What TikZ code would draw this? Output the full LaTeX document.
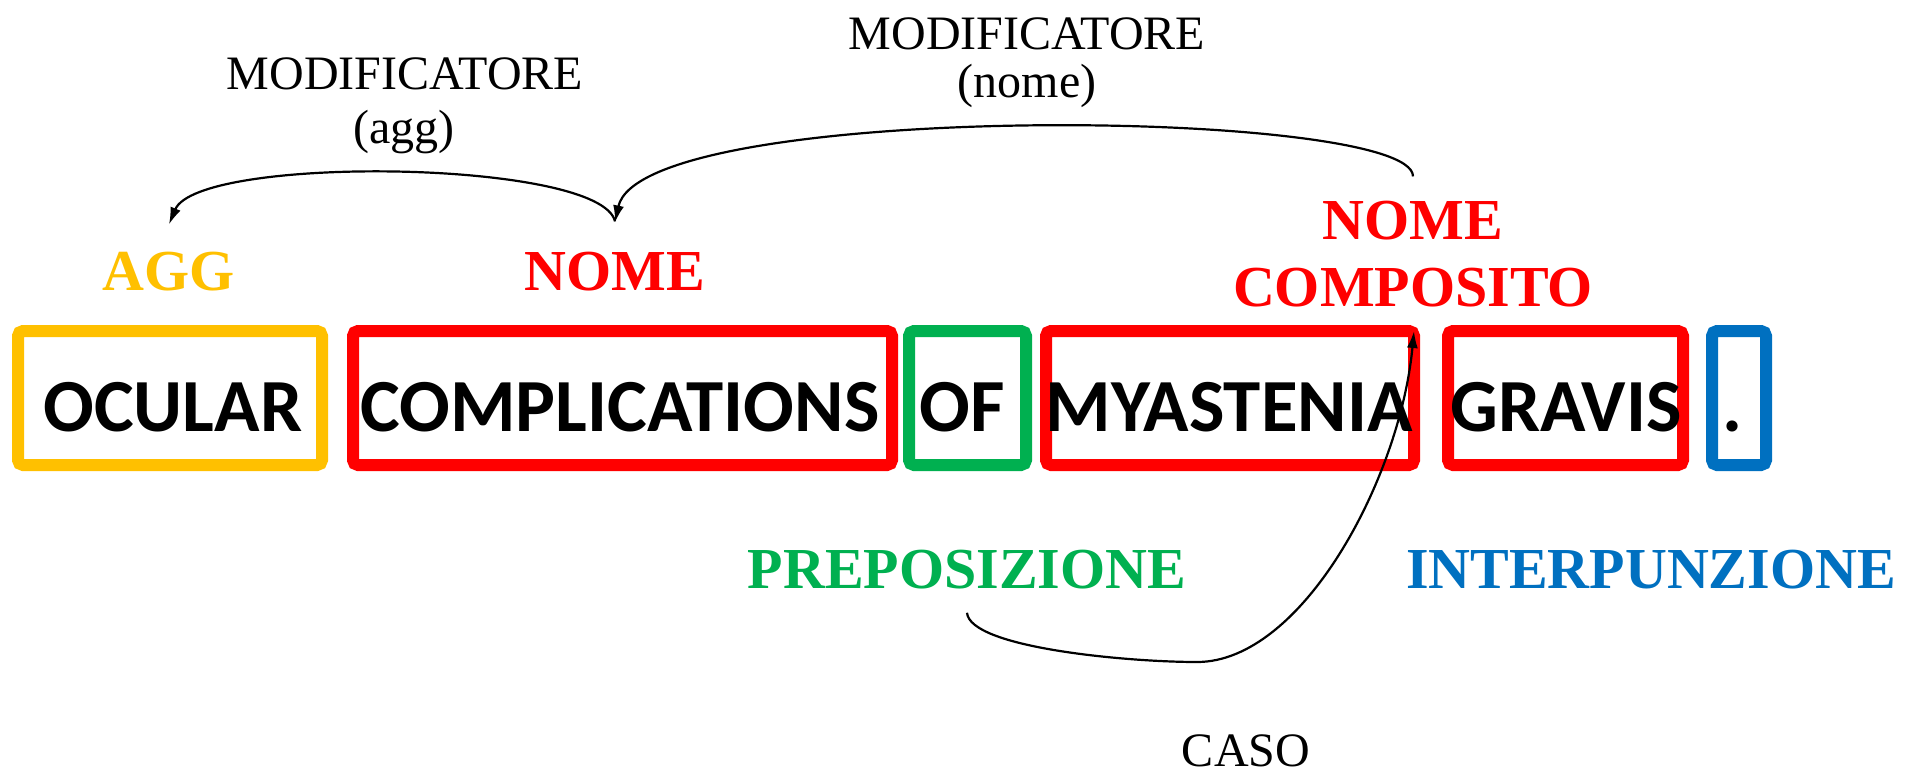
\documentclass[tikz,border=0pt]{standalone}
\usepackage{fontspec}
\setmainfont{Liberation Serif}
\newfontfamily\wordfont{Carlito}
\usetikzlibrary{arrows.meta}
\definecolor{cyel}{HTML}{FFC000}
\definecolor{cred}{HTML}{FF0000}
\definecolor{cgrn}{HTML}{00B050}
\definecolor{cblu}{HTML}{0070C0}
\tikzset{
  wbox/.style={draw, line width=12pt, rounded corners=5pt, outer sep=0pt, inner sep=0pt, minimum height=134pt},
  word/.style={anchor=base, inner sep=0pt, font=\wordfont\bfseries\fontsize{75}{80}\selectfont},
  cat/.style={anchor=base, inner sep=0pt, font=\bfseries\fontsize{58}{67}\selectfont},
  rel/.style={anchor=base, inner sep=0pt, font=\fontsize{48}{54}\selectfont},
  arr/.style={line width=2.2pt, -{Latex[length=17pt,width=11pt]}}
}
\begin{document}
\begin{tikzpicture}[x=1pt,y=1pt]
\useasboundingbox (0,0) rectangle (1921,-774);
% boxes
\node[wbox, draw=cyel, minimum width=304pt] (b1) at (170,-398) {};
\node[wbox, draw=cred, minimum width=539pt] (b2) at (622.5,-398) {};
\node[wbox, draw=cgrn, minimum width=117pt] (b3) at (967.5,-398) {};
\node[wbox, draw=cred, minimum width=368pt] (b4) at (1230,-398) {};
\node[wbox, draw=cred, minimum width=235pt] (b5) at (1565.5,-398) {};
\node[wbox, draw=cblu, minimum width=54pt] (b6) at (1739,-398) {};
% words
\node[word] (w1) at (173,-431) {OCULAR};
\node[word] (w2) at (620,-431) {COMPLICATIONS};
\node[word] (w3) at (962,-431) {OF};
\node[word] (w4) at (1229,-431) {MYASTENIA};
\node[word] (w5) at (1566,-431) {GRAVIS};
\node[word] (w6) at (1732,-431) {.};
% category labels
\node[cat, text=cyel] (agg) at (169,-290) {AGG};
\node[cat, text=cred] (nome) at (615,-290) {NOME};
\node[cat, text=cred] (nc1) at (1413,-239) {NOME};
\node[cat, text=cred] (nc2) at (1413,-306) {COMPOSITO};
\node[cat, text=cgrn] (prep) at (967,-588) {PREPOSIZIONE};
\node[cat, text=cblu] (interp) at (1651,-588) {INTERPUNZIONE};
% relation labels
\node[rel] (m1a) at (405,-89) {MODIFICATORE};
\node[rel] (m1b) at (404,-143) {(agg)};
\node[rel] (m2a) at (1027,-49) {MODIFICATORE};
\node[rel] (m2b) at (1027,-97) {(nome)};
\node[rel] (caso) at (1246,-766) {CASO};
% arcs
\coordinate (cb) at (1197,-662);
\draw[arr] ([yshift=30pt]nome.north) .. controls +(-14,62) and +(29,70) .. ([yshift=27pt]agg.north);
\draw[arr] ([yshift=24pt]nc1.north) .. controls +(0,69) and +(26,123) .. ([yshift=29pt]nome.north);
\draw[arr] ([yshift=-24pt]prep.south) .. controls +(3,-35) and +(-70,0) .. (cb) .. controls +(105,0) and +(-14,-148) .. (b4.north east);
\end{tikzpicture}
\end{document}
